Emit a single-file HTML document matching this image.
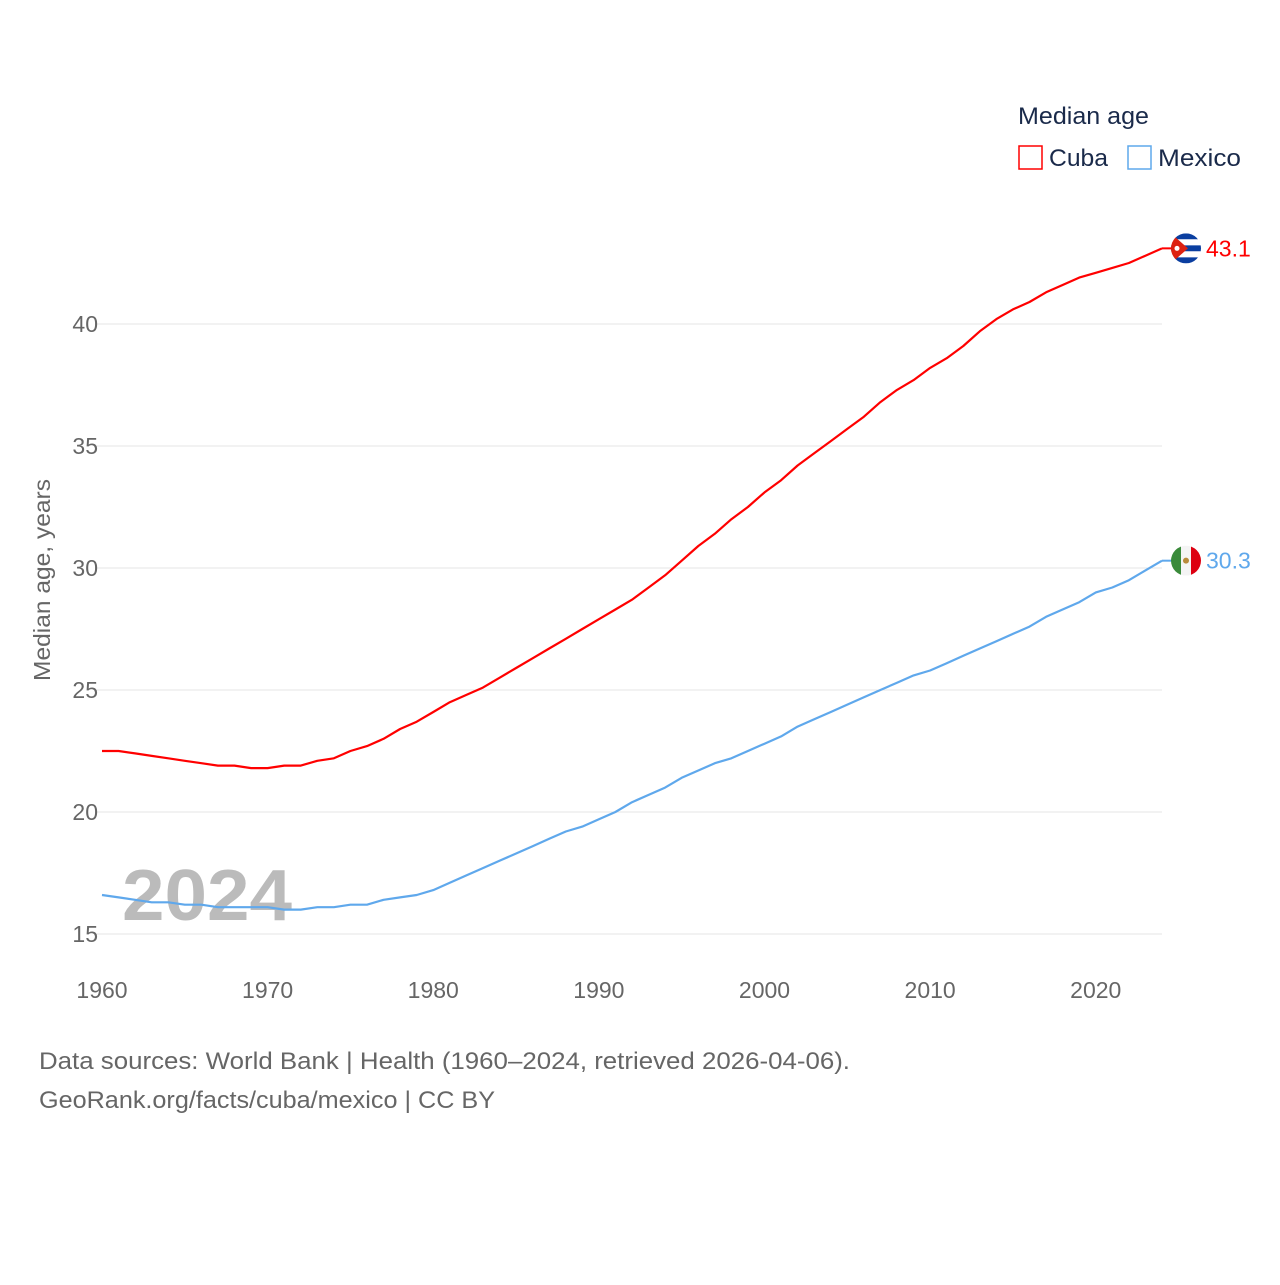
<!DOCTYPE html>
<html><head><meta charset="utf-8"><style>
body{margin:0;background:#fff;font-family:"Liberation Sans",sans-serif;}
svg text{font-family:"Liberation Sans",sans-serif;}
</style></head><body>
<svg id="chart" width="1280" height="1280" viewBox="0 0 1280 1280">
<rect width="1280" height="1280" fill="#fff"/>
<g id="grid"></g>
<g id="xticks"></g>
<text transform="translate(50,580) rotate(-90)" text-anchor="middle" font-size="23" fill="#666" textLength="202" lengthAdjust="spacingAndGlyphs">Median age, years</text>
<text x="122" y="920" font-size="72" font-weight="bold" fill="#bbb" textLength="170" lengthAdjust="spacingAndGlyphs">2024</text>
<g id="series"></g>
<g>
<text x="1018" y="124" font-size="24" fill="#1a2a4a" textLength="131" lengthAdjust="spacingAndGlyphs">Median age</text>
<rect x="1019" y="146" width="23" height="23" fill="none" stroke="#f00" stroke-width="1.5"/>
<text x="1049" y="166" font-size="24" fill="#1a2a4a" textLength="59" lengthAdjust="spacingAndGlyphs">Cuba</text>
<rect x="1128" y="146" width="23" height="23" fill="none" stroke="#5fa8ec" stroke-width="1.5"/>
<text x="1158" y="166" font-size="24" fill="#1a2a4a" textLength="83" lengthAdjust="spacingAndGlyphs">Mexico</text>
</g>
<text x="39" y="1069" font-size="24" fill="#666" textLength="811" lengthAdjust="spacingAndGlyphs">Data sources: World Bank | Health (1960–2024, retrieved 2026-04-06).</text>
<text x="39" y="1108" font-size="24" fill="#666" textLength="456" lengthAdjust="spacingAndGlyphs">GeoRank.org/facts/cuba/mexico | CC BY</text>
</svg>
<script>
const years=[];for(let y=1960;y<=2024;y++)years.push(y);
const cuba=[22.5,22.5,22.4,22.3,22.2,22.1,22.0,21.9,21.9,21.8,21.8,21.9,21.9,22.1,22.2,22.5,22.7,23.0,23.4,23.7,24.1,24.5,24.8,25.1,25.5,25.9,26.3,26.7,27.1,27.5,27.9,28.3,28.7,29.2,29.7,30.3,30.9,31.4,32.0,32.5,33.1,33.6,34.2,34.7,35.2,35.7,36.2,36.8,37.3,37.7,38.2,38.6,39.1,39.7,40.2,40.6,40.9,41.3,41.6,41.9,42.1,42.3,42.5,42.8,43.1];
const mexico=[16.6,16.5,16.4,16.3,16.3,16.2,16.2,16.1,16.1,16.1,16.1,16.0,16.0,16.1,16.1,16.2,16.2,16.4,16.5,16.6,16.8,17.1,17.4,17.7,18.0,18.3,18.6,18.9,19.2,19.4,19.7,20.0,20.4,20.7,21.0,21.4,21.7,22.0,22.2,22.5,22.8,23.1,23.5,23.8,24.1,24.4,24.7,25.0,25.3,25.6,25.8,26.1,26.4,26.7,27.0,27.3,27.6,28.0,28.3,28.6,29.0,29.2,29.5,29.9,30.3];
const yTicks=[15,20,25,30,35,40];
const xTicks=[1960,1970,1980,1990,2000,2010,2020];
const NS="http://www.w3.org/2000/svg";
const X=v=>102+(v-1960)*(1162-102)/64;
const Y=v=>934-(v-15)*(934-324)/25;
function mk(tag,attrs,parent,text){const e=document.createElementNS(NS,tag);for(const k in attrs)e.setAttribute(k,attrs[k]);if(text!=null)e.textContent=text;parent.appendChild(e);return e;}
const grid=document.getElementById('grid');
yTicks.forEach(t=>{
 const l=mk('line',{x1:95,x2:1162,y1:Y(t),y2:Y(t),stroke:'#e6e6e6','stroke-width':1},grid);
 
 
 const tx=mk('text',{x:98,y:Y(t)+8,'text-anchor':'end','font-size':23,fill:'#666'},grid,String(t));
 
 
});
const xg=document.getElementById('xticks');
xTicks.forEach(t=>{
 const tx=mk('text',{x:X(t),y:998,'text-anchor':'middle','font-size':23,fill:'#666'},xg,String(t));
 
 
});
const sg=document.getElementById('series');
function drawSeries(vals,color,name){
 const d=vals.map((v,i)=>(i?'L':'M')+X(years[i]).toFixed(1)+','+Y(v).toFixed(1)).join('');
 const p=mk('path',{d:d,fill:'none',stroke:color,'stroke-width':2.2,'stroke-linejoin':'round'},sg);
 
 
 const last=vals[vals.length-1],lx=X(years[years.length-1]),ly=Y(last);
 mk('line',{x1:lx,x2:lx+12,y1:ly,y2:ly,stroke:color,'stroke-width':2},sg);
 const g=mk('g',{},sg);
 
 
 const cx=lx+24,cy=ly;
 const cid='clip-'+name;
 const cp=mk('clipPath',{id:cid},g);mk('circle',{cx:cx,cy:cy,r:15},cp);
 const fg=mk('g',{'clip-path':'url(#'+cid+')'},g);
 if(name==='cuba'){
  for(let i=0;i<5;i++)mk('rect',{x:cx-15,y:cy-15+i*6,width:30,height:6,fill:i%2?'#fff':'#0a3ea0'},fg);
  mk('path',{d:`M${cx-15},${cy-15}L${cx+2},${cy}L${cx-15},${cy+15}Z`,fill:'#d21'},fg);
  mk('circle',{cx:cx-9,cy:cy,r:2.5,fill:'#fff'},fg);
 }else{
  mk('rect',{x:cx-15,y:cy-15,width:10,height:30,fill:'#3a8a3a'},fg);
  mk('rect',{x:cx-5,y:cy-15,width:10,height:30,fill:'#f4f4f4'},fg);
  mk('rect',{x:cx+5,y:cy-15,width:10,height:30,fill:'#d01'},fg);
  mk('circle',{cx:cx,cy:cy,r:3,fill:'#b88a3a'},fg);
 }
 const t=mk('text',{x:lx+44,y:ly+8,'font-size':23,fill:color},sg,last.toFixed(1));
 
 
}
drawSeries(cuba,'#f00','cuba');
drawSeries(mexico,'#5fa8ec','mexico');
</script>
</body></html>
